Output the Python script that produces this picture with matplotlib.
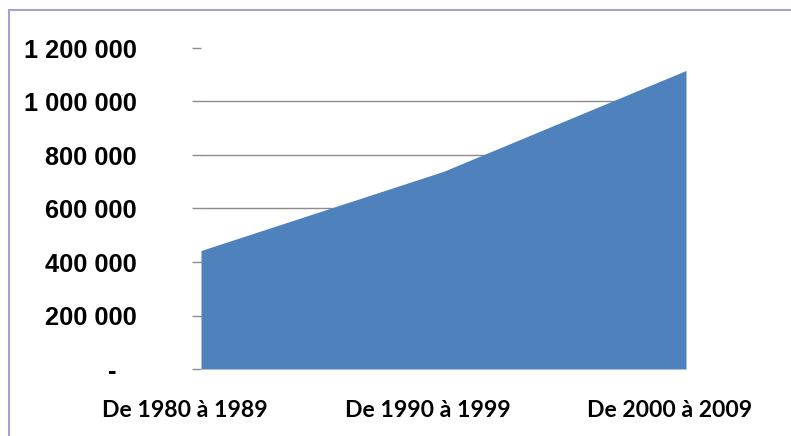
import matplotlib
matplotlib.use('Agg')
from matplotlib import pyplot as plt
from matplotlib.patches import Rectangle
import matplotlib.transforms as mtransforms

# data
periods = ['De 1980 à 1989', 'De 1990 à 1999', 'De 2000 à 2009']
values = [443000, 739000, 1116000]
yticks = [0, 200000, 400000, 600000, 800000, 1000000, 1200000]
ytick_labels = ['-   ', '200 000', '400 000', '600 000', '800 000', '1 000 000', '1 200 000']

plt.rcParams['font.family'] = ['Liberation Sans', 'DejaVu Sans']

W, H = 791, 436
fig = plt.figure(figsize=(W / 100, H / 100), dpi=100)

# outer chart frame (runs off the right and bottom edge)
fig.patches.append(Rectangle((9 / W, -0.1), 1.2, (H - 10) / H + 0.1,
                             transform=fig.transFigure, fill=False,
                             edgecolor='#a99fd4', linewidth=1.5))

ax = fig.add_axes([201 / W, (H - 369) / H, (686 - 201) / W, (369 - 48) / H])
x = list(range(len(periods)))
ax.fill_between(x, 0, values, color='#4f81bd', linewidth=0, zorder=2)

# gridlines
for v in yticks[1:-1]:
    ax.axhline(v, color='#8c8c8c', linewidth=1, zorder=1)

ax.set_xlim(0, len(periods) - 1)
ax.set_ylim(0, 1200000)
for s in ax.spines.values():
    s.set_visible(False)

ax.set_yticks(yticks)
ax.set_yticklabels(ytick_labels, fontweight='bold', fontsize=18.3)
ax.tick_params(axis='y', length=6.5, width=1, color='#8c8c8c', pad=39.5)

ax.set_xticks(x)
ax.set_xticklabels(periods, family=['Lato', 'DejaVu Sans'], fontweight='bold', fontsize=16.6)
ax.tick_params(axis='x', length=0, pad=22)
shift = mtransforms.ScaledTranslation(-16 / 100, 0, fig.dpi_scale_trans)
for lbl in ax.get_xticklabels():
    lbl.set_transform(lbl.get_transform() + shift)

fig.savefig('out.png', dpi=100)
